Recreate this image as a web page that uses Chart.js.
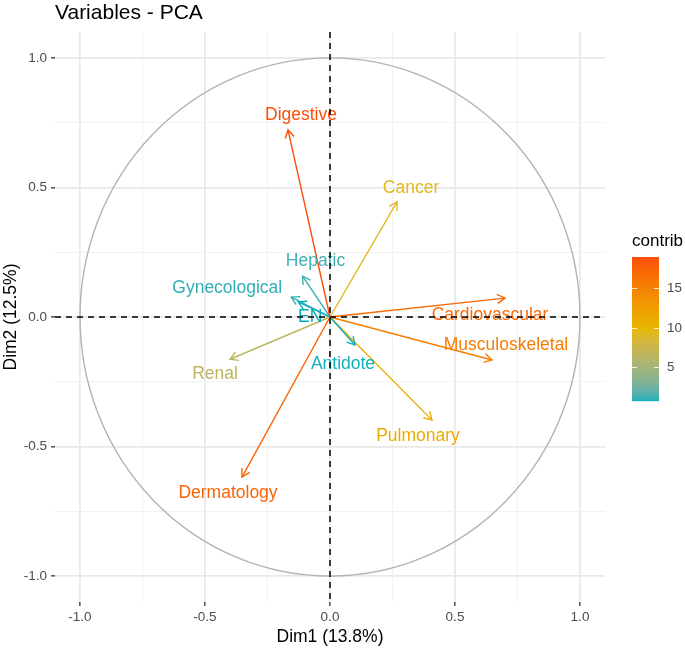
<!DOCTYPE html>
<html><head><meta charset="utf-8">
<script src="https://cdn.jsdelivr.net/npm/chart.js@4.4.1/dist/chart.umd.min.js"></script>
<style>html,body{margin:0;padding:0;background:#fff}#wrap{width:685px;height:648px;position:relative}</style>
</head><body><div id="wrap"><canvas id="c" width="685" height="648"></canvas></div>
<script>
// ---- data ----
const variables = ['Digestive','Cancer','Hepatic','Gynecological','EN','Cardiovascular','Musculoskeletal','Renal','Antidote','Pulmonary','Dermatology'];
const dim1 = [-0.168, 0.268, -0.11, -0.155, -0.127, 0.70, 0.648, -0.40, 0.10, 0.408, -0.352];
const dim2 = [0.722, 0.444, 0.158, 0.077, 0.058, 0.073, -0.166, -0.163, -0.108, -0.398, -0.618];
const contrib = [19.0, 9.3, 1.28, 1.03, 0.67, 17.1, 15.5, 6.5, 0.75, 11.2, 17.5];
const majorTicks = [-1, -0.5, 0, 0.5, 1];
const minorTicks = [-0.75, -0.25, 0.25, 0.75];
const legendTicks = [5, 10, 15];
const xTitle = 'Dim1 (13.8%)';
const yTitle = 'Dim2 (12.5%)';
const chartTitle = 'Variables - PCA';
const legendTitle = 'contrib';

// ---- styling ----
const gradientCols = ['#00AFBB', '#E7B800', '#FC4E07'];
// label offsets from arrow tip, in pixels
const labelOffsets = [[13,-15],[14,-14],[13,-15],[-64,-9],[12,15],[-15,17],[14,-15],[-15,15],[-12,19],[-14,16],[-14,16]];
const FONT = "'Liberation Sans', Arial, Helvetica, sans-serif";

// Lab colour interpolation (like scales::colour_ramp)
function hex2rgb(h){return [parseInt(h.substr(1,2),16),parseInt(h.substr(3,2),16),parseInt(h.substr(5,2),16)];}
function srgb2lin(c){c/=255;return c<=0.04045?c/12.92:Math.pow((c+0.055)/1.055,2.4);}
function lin2srgb(c){c=c<=0.0031308?12.92*c:1.055*Math.pow(c,1/2.4)-0.055;return Math.round(Math.max(0,Math.min(1,c))*255);}
const Wn=[0.95047,1,1.08883];
function f(t){return t>0.008856?Math.cbrt(t):7.787*t+16/116;}
function fi(t){return t>0.206893?t*t*t:(t-16/116)/7.787;}
function rgb2lab(rgb){const [r,g,b]=rgb.map(srgb2lin);
  const X=(0.4124*r+0.3576*g+0.1805*b)/Wn[0],Y=(0.2126*r+0.7152*g+0.0722*b)/Wn[1],Z=(0.0193*r+0.1192*g+0.9505*b)/Wn[2];
  return [116*f(Y)-16,500*(f(X)-f(Y)),200*(f(Y)-f(Z))];}
function lab2rgb(lab){const fy=(lab[0]+16)/116,fx=fy+lab[1]/500,fz=fy-lab[2]/200;
  const X=fi(fx)*Wn[0],Y=fi(fy)*Wn[1],Z=fi(fz)*Wn[2];
  const r=3.2406*X-1.5372*Y-0.4986*Z,g=-0.9689*X+1.8758*Y+0.0415*Z,b=0.0557*X-0.2040*Y+1.0570*Z;
  return [lin2srgb(r),lin2srgb(g),lin2srgb(b)];}
const labStops = gradientCols.map(h=>rgb2lab(hex2rgb(h)));
const cMin = Math.min(...contrib), cMax = Math.max(...contrib);
function colourAt(t){ // t in [0,1]
  t=Math.max(0,Math.min(1,t));
  const seg=t<0.5?0:1, lt=t<0.5?t*2:(t-0.5)*2;
  const a=labStops[seg],b=labStops[seg+1];
  const rgb=lab2rgb([a[0]+(b[0]-a[0])*lt,a[1]+(b[1]-a[1])*lt,a[2]+(b[2]-a[2])*lt]);
  return 'rgb('+rgb.join(',')+')';
}
function colourFor(v){return colourAt((v-cMin)/(cMax-cMin));}

const allGrid = majorTicks.concat(minorTicks).sort((a,b)=>a-b);
const isMajor = v => majorTicks.some(m=>Math.abs(m-v)<1e-9);

const datasets = variables.map((name,i)=>({
  label:name,
  data:[{x:0,y:0},{x:dim1[i],y:dim2[i]}],
  borderColor:colourFor(contrib[i]),
  borderWidth:1.4,
  pointRadius:0,
  showLine:true,
  fill:false
}));

function makeScale(isX){
  return {
    type:'linear', min:-1.1, max:1.1,
    afterBuildTicks: s => { s.ticks = allGrid.map(v=>({value:v})); },
    afterFit: s => { if(isX) s.height = 46; else s.width = 55; },
    border:{display:false},
    grid:{
      color: ctx => (ctx.tick && isMajor(ctx.tick.value)) ? '#e9e9e9' : '#f2f2f2',
      lineWidth: ctx => (ctx.tick && isMajor(ctx.tick.value)) ? 1.7 : 1.0,
      drawTicks:true, tickLength:4, tickWidth:1.3,
      tickColor: ctx => (ctx.tick && isMajor(ctx.tick.value)) ? '#333333' : 'rgba(0,0,0,0)'
    },
    ticks:{
      autoSkip:false, maxRotation:0, padding:isX?3:4,
      color:'#4d4d4d', font:{family:FONT,size:13.5},
      callback: v => isMajor(v) ? v.toFixed(1) : ''
    }
  };
}

const decor = {
  id:'decor',
  beforeDatasetsDraw(chart){
    const {ctx, scales:{x,y}} = chart;
    // correlation circle
    const cx=x.getPixelForValue(0), cy=y.getPixelForValue(0);
    const rx=x.getPixelForValue(1)-cx, ry=cy-y.getPixelForValue(1);
    ctx.save();
    ctx.strokeStyle='#b3b3b3'; ctx.lineWidth=1.4;
    ctx.beginPath(); ctx.ellipse(cx,cy,rx,ry,0,0,Math.PI*2); ctx.stroke();
    ctx.restore();
  },
  afterDatasetsDraw(chart){
    const {ctx, scales:{x,y}, chartArea:ca} = chart;
    ctx.save();
    // arrow heads
    chart.data.datasets.forEach((ds,i)=>{
      const m=chart.getDatasetMeta(i);
      const p0=m.data[0], p1=m.data[1];
      const ang=Math.atan2(p1.y-p0.y,p1.x-p0.x);
      const L=9, a=Math.PI/6;
      ctx.strokeStyle=ds.borderColor; ctx.lineWidth=1.4; ctx.lineCap='butt';
      ctx.beginPath();
      ctx.moveTo(p1.x-L*Math.cos(ang-a),p1.y-L*Math.sin(ang-a));
      ctx.lineTo(p1.x,p1.y);
      ctx.lineTo(p1.x-L*Math.cos(ang+a),p1.y-L*Math.sin(ang+a));
      ctx.stroke();
    });
    // labels
    ctx.font='17.5px '+FONT; ctx.textAlign='center'; ctx.textBaseline='middle';
    chart.data.datasets.forEach((ds,i)=>{
      const p1=chart.getDatasetMeta(i).data[1];
      ctx.fillStyle=ds.borderColor;
      ctx.fillText(ds.label,p1.x+labelOffsets[i][0],p1.y+labelOffsets[i][1]);
    });
    // dashed axes
    const cx=x.getPixelForValue(0), cy=y.getPixelForValue(0);
    ctx.strokeStyle='#000'; ctx.lineWidth=1.5; ctx.setLineDash([6,5]);
    ctx.beginPath(); ctx.moveTo(ca.left,cy); ctx.lineTo(ca.right,cy); ctx.stroke();
    ctx.beginPath(); ctx.moveTo(cx,ca.top); ctx.lineTo(cx,ca.bottom); ctx.stroke();
    ctx.setLineDash([]);
    ctx.restore();
  },
  afterDraw(chart){
    const {ctx, chartArea:ca} = chart;
    ctx.save();
    // title
    ctx.fillStyle='#000'; ctx.font='21px '+FONT; ctx.textAlign='left'; ctx.textBaseline='alphabetic';
    ctx.fillText(chartTitle, ca.left, 19);
    // axis titles
    ctx.font='17.5px '+FONT; ctx.textAlign='center'; ctx.textBaseline='middle';
    ctx.fillText(xTitle,(ca.left+ca.right)/2,637);
    ctx.save(); ctx.translate(11,(ca.top+ca.bottom)/2); ctx.rotate(-Math.PI/2);
    ctx.fillText(yTitle,0,0); ctx.restore();
    // legend
    const bx=632, bw=27, top=257, bot=401;
    ctx.textAlign='left';
    ctx.font='17px '+FONT; ctx.fillStyle='#000';
    ctx.fillText(legendTitle,bx,241);
    for(let py=top; py<bot; py++){
      const t=1-(py-top)/(bot-top);
      ctx.fillStyle=colourAt(t); ctx.fillRect(bx,py,bw,1.2);
    }
    const vpx = v => bot-(v-cMin)/(cMax-cMin)*(bot-top);
    ctx.strokeStyle='rgba(255,255,255,0.85)'; ctx.lineWidth=1;
    ctx.font='13.5px '+FONT; ctx.fillStyle='#4d4d4d';
    legendTicks.forEach(v=>{
      const py=Math.round(vpx(v))+0.5;
      ctx.beginPath(); ctx.moveTo(bx,py); ctx.lineTo(bx+5,py); ctx.moveTo(bx+bw-5,py); ctx.lineTo(bx+bw,py); ctx.stroke();
      ctx.fillText(String(v),bx+bw+8,py);
    });
    ctx.restore();
  }
};

new Chart(document.getElementById('c'),{
  type:'scatter',
  data:{datasets},
  options:{
    responsive:false, animation:false, devicePixelRatio:1,
    layout:{padding:{top:32,right:80,left:0,bottom:0}},
    plugins:{legend:{display:false},tooltip:{enabled:false},title:{display:false}},
    scales:{x:makeScale(true), y:makeScale(false)}
  },
  plugins:[decor]
});
</script>
</body></html>
